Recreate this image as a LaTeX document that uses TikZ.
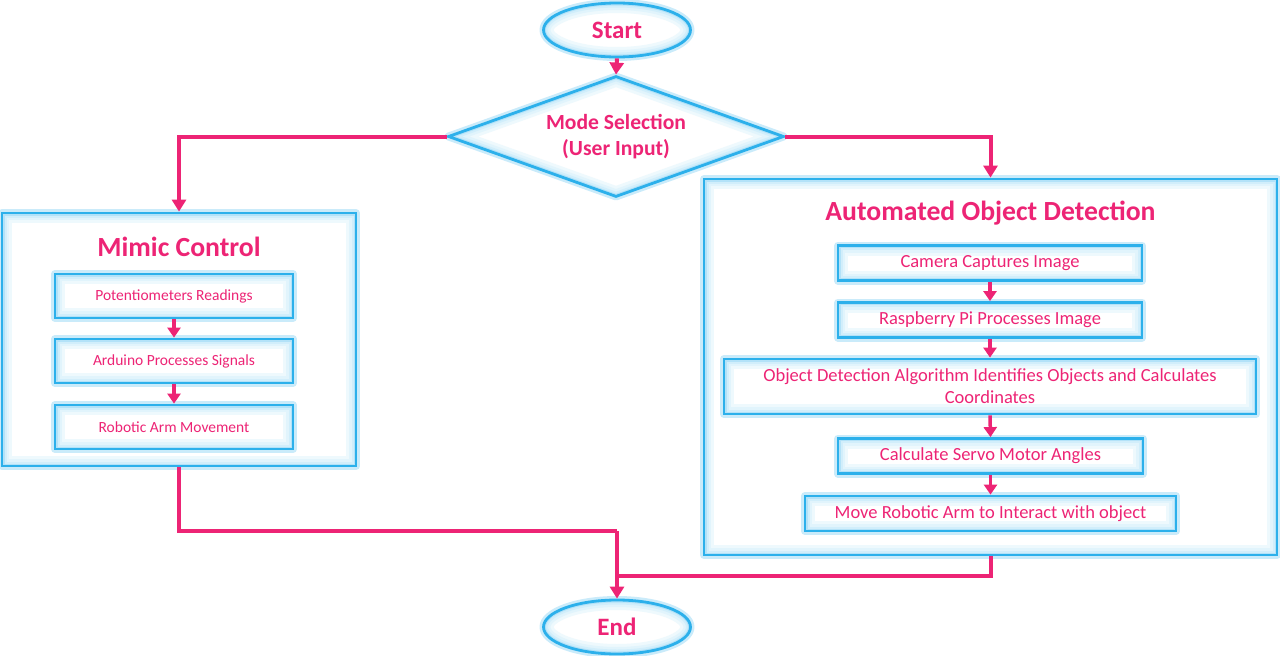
\documentclass[tikz,border=0pt]{standalone}
\usepackage{fontspec}
\setmainfont{Carlito}
\usetikzlibrary{shapes.geometric,arrows.meta}
\definecolor{pinkc}{RGB}{237,36,117}
\definecolor{bluec}{RGB}{44,176,235}
\newcommand\glowstrokes[1]{\foreach \w/\c in {20/8,14/14,9/22,5/36}{\draw[bluec!\c,line width=\w pt,line join=round] #1;}}
\tikzset{
  x=1pt,y=-1pt,
  base/.style={draw=bluec, line width=2.8pt, fill=white, text=pinkc, inner sep=0pt,
    preaction={draw=bluec!25, line width=8pt, line join=round}},
  glowrect/.style={base, rectangle, path picture={\glowstrokes{(path picture bounding box.south west) rectangle (path picture bounding box.north east)}}},
  glowell/.style={base, ellipse, minimum width=147pt, minimum height=54pt,
    path picture={\glowstrokes{(path picture bounding box.center) ellipse [x radius=73.5pt, y radius=27pt]}}},
  glowdia/.style={base, diamond, minimum width=336pt, minimum height=121pt, aspect=2.78,
    path picture={\glowstrokes{(path picture bounding box.north) -- (path picture bounding box.east) -- (path picture bounding box.south) -- (path picture bounding box.west) -- cycle}}},
  smallbox/.style={glowrect, font=\fontsize{15.5}{18}\selectfont},
  midbox/.style={glowrect, font=\fontsize{18.5}{22}\selectfont, align=center},
  titletext/.style={text=pinkc, font=\fontsize{27.7}{32}\selectfont\bfseries},
  conn/.style={draw=pinkc, line width=4pt},
  arr/.style={conn, -{Triangle[width=14pt,length=12pt]}},
  iarr/.style={draw=pinkc, line width=3.5pt, -{Triangle[width=13pt,length=10pt]}},
}
\begin{document}
\begin{tikzpicture}
\useasboundingbox (0,0) rectangle (1280,656);
% start / decision / end
\node[glowell, font=\fontsize{25}{29}\selectfont\bfseries] (start) at (617,30) {Start};
\node[glowdia, font=\fontsize{21.6}{26}\selectfont\bfseries, align=center] (mode) at (616,136.5) {\raisebox{-3pt}{Mode Selection}\\\raisebox{-3pt}{(User Input)}};
\node[glowell, font=\fontsize{25}{29}\selectfont\bfseries] (end) at (617,627) {End};
% big containers
\node[glowrect, minimum width=354pt, minimum height=253pt] (mimic) at (179,339.5) {};
\node[glowrect, minimum width=573pt, minimum height=376pt] (auto) at (990.5,367) {};
\node[titletext] (mimict) at (179,247) {Mimic Control};
\node[titletext] (autot) at (990.5,213) {Automated Object Detection};
% mimic steps
\node[smallbox, minimum width=238pt, minimum height=44pt] (m1) at (174,296) {Potentiometers Readings};
\node[smallbox, minimum width=238pt, minimum height=44pt] (m2) at (174,361) {Arduino Processes Signals};
\node[smallbox, minimum width=238pt, minimum height=44pt] (m3) at (174,427) {Robotic Arm Movement};
% automated steps
\node[midbox, minimum width=304pt, minimum height=35pt] (a1) at (990,263) {Camera Captures Image};
\node[midbox, minimum width=304pt, minimum height=35pt] (a2) at (990,320) {Raspberry Pi Processes Image};
\node[midbox, minimum width=532pt, minimum height=55pt] (a3) at (990,386.5) {Object Detection Algorithm Identifies Objects and Calculates\\Coordinates};
\node[midbox, minimum width=305pt, minimum height=35pt] (a4) at (990.5,456) {Calculate Servo Motor Angles};
\node[midbox, minimum width=371pt, minimum height=35pt] (a5) at (990.5,513.5) {Move Robotic Arm to Interact with object};
% connectors
\draw[arr] (start.south) -- (mode.north);
\draw[arr] (mode.west) -| (mimic.north);
\draw[arr] (mode.east) -| (auto.north);
\draw[iarr] (m1.south) -- (m2.north);
\draw[iarr] (m2.south) -- (m3.north);
\draw[iarr] (a1.south) -- (a2.north);
\draw[iarr] (a2.south) -- (a3.north);
\draw[iarr] (a3.south) -- (a4.north);
\draw[iarr] (a4.south) -- (a5.north);
\coordinate (mj) at (617,531);
\coordinate (aj) at (617,576);
\draw[conn, line join=miter] (mimic.south) |- (mj);
\draw[arr] (mj) -- (end.north);
\draw[conn] (auto.south) |- (aj);
\end{tikzpicture}
\end{document}
